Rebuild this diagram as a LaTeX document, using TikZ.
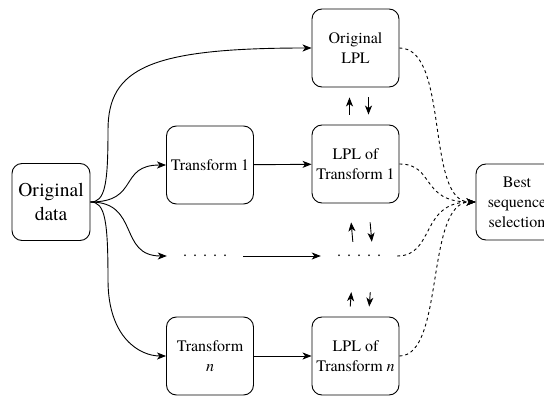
\documentclass[tikz,border=0pt]{standalone}
\usepackage{fontspec}
\setmainfont{texgyretermes}[Extension=.otf, UprightFont=*-regular,
    ItalicFont=*-italic, BoldFont=*-bold, BoldItalicFont=*-bolditalic]
\usetikzlibrary{arrows.meta}

\begin{document}
\begin{tikzpicture}[x=1pt, y=-1pt, >={Stealth[length=9pt,width=7pt,inset=2.5pt]},
    box/.style={draw, line width=0.9pt, rounded corners=10pt, minimum width=87pt,
        minimum height=78pt, align=center, inner sep=1pt,
        font=\fontsize{16}{20}\selectfont},
    dotrow/.style={minimum width=76pt, minimum height=24pt, inner sep=0pt,
        font=\fontsize{16}{20}\selectfont},
    link/.style={->, line width=0.9pt},
    sel/.style={->, line width=0.9pt, dashed, dash pattern=on 3pt off 3pt}]
    \useasboundingbox (0,0) rectangle (544,396);

    % Sources and transforms
    \node[box, minimum width=78pt, minimum height=77pt,
        font=\fontsize{19.5}{24}\selectfont] (data) at (51,202) {Original\\data};
    \node[box] (trans1) at (210,165) {Transform 1};
    \node[dotrow] (dotsl) at (205,256) {.\hspace{6pt}.\hspace{6pt}.\hspace{6pt}.\hspace{6pt}.};
    \node[box] (transn) at (210,356) {Transform\\\textit{n}};

    % LPL boxes
    \node[box] (lpl0) at (355.5,48) {Original\\LPL};
    \node[box] (lpl1) at (355.5,164) {LPL of\\Transform 1};
    \node[dotrow] (dotsr) at (359,256) {.\hspace{6pt}.\hspace{6pt}.\hspace{6pt}.\hspace{6pt}.};
    \node[box] (lpln) at (355.5,356) {LPL of\\Transform \textit{n}};

    % Selection
    \node[box, minimum width=82pt, minimum height=76pt] (best) at (517,202) {Best\\sequence\\selection};

    % Branches from the data
    \draw[link] (data.east) .. controls (105,202) and (108,185) .. (108,130)
        .. controls (108,68) and (150,48) .. (lpl0.west);
    \draw[link] (data.east) .. controls (140,202) and (118,165) .. (trans1.west);
    \draw[link] (data.east) .. controls (140,202) and (118,256) .. (dotsl.west);
    \draw[link] (data.east) .. controls (105,202) and (108,220) .. (108,280)
        .. controls (108,338) and (140,356) .. (transn.west);

    % Transform to LPL
    \draw[link] (trans1) -- (lpl1);
    \draw[link] (dotsl) -- (dotsr);
    \draw[link] (transn) -- (lpln);

    % Up and down between LPL rows
    \draw[link, shorten <=10pt, shorten >=10pt] ([xshift=-6pt]lpl1.north) -- ([xshift=-6pt]lpl0.south);
    \draw[link, shorten <=10pt, shorten >=10pt] ([xshift=13pt]lpl0.south) -- ([xshift=13pt]lpl1.north);
    \draw[link, shorten <=2pt, shorten >=19pt] ([xshift=-6pt]dotsr.north) -- ([xshift=-6pt]lpl1.south);
    \draw[link, shorten <=19pt, shorten >=2pt] ([xshift=13pt]lpl1.south) -- ([xshift=13pt]dotsr.north);
    \draw[link, shorten <=10pt, shorten >=24pt] ([xshift=-6pt]lpln.north) -- ([xshift=-6pt]dotsr.south);
    \draw[link, shorten <=24pt, shorten >=10pt] ([xshift=13pt]dotsr.south) -- ([xshift=13pt]lpln.north);

    % Into the selection
    \draw[sel] (lpl0.east) .. controls (450,48) and (425,202) .. (best.west);
    \draw[sel] (lpl1.east) .. controls (435,164) and (420,202) .. (best.west);
    \draw[sel] (dotsr.east) .. controls (435,256) and (420,202) .. (best.west);
    \draw[sel] (lpln.east) .. controls (445,356) and (425,202) .. (best.west);
\end{tikzpicture}
\end{document}
